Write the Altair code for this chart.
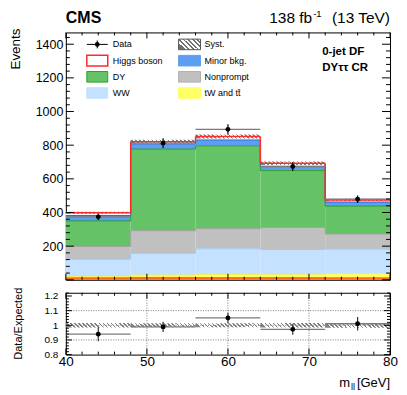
import altair as alt
import pandas as pd

FONT = "Liberation Sans"

# ---------------- data ----------------
bin_lo = [40, 48, 56, 64, 72]
bin_hi = [48, 56, 64, 72, 80]
bin_mid = [44, 52, 60, 68, 76]

other_bkg = [12, 14, 13, 13, 12]        # thin orange band at the bottom
top_bkg = [8, 14, 19, 17, 24]           # tW and tt
ww_bkg = [102, 129, 152, 150, 146]
nonprompt_bkg = [76, 135, 120, 131, 90]
dy_bkg = [152, 485, 492, 338, 166]
minor_bkg = [32, 29, 35, 26, 24]
higgs_sig = [16, 15, 20, 17, 12]

data_obs = [374, 812, 894, 673, 479]
data_err = [19, 29, 30, 26, 22]
syst_rel = [0.015, 0.014, 0.014, 0.015, 0.016]

main_y_labels = [200, 400, 600, 800, 1000, 1200, 1400]
ratio_y_labels = [0.8, 0.9, 1.0, 1.1, 1.2]
x_labels = [40, 50, 60, 70, 80]

# ---------------- layout ----------------
W, H_MAIN, H_RATIO = 325, 248, 62
Y_MAX = 1470
R_MIN, R_MAX = 0.8, 1.222

comps = [
    ("other", other_bkg, "#ff6a1a", "#ff6a1a", 1.0),
    ("tt", top_bkg, "#ffff66", "#f2f250", 1.0),
    ("WW", ww_bkg, "#c4e1ff", "#9fcdf7", 1.0),
    ("Nonprompt", nonprompt_bkg, "#c0c0c0", "#a3a3a3", 1.0),
    ("DY", dy_bkg, "#66c266", "#2e9e2e", 1.0),
    ("Minor", minor_bkg, "#5c9ff2", "#2f6ad8", 1.0),
    ("Higgs", higgs_sig, "#ffffff", "#ff2a2a", 1.5),
]

rows, steps = [], []
base = [0] * 5
for name, vals, fill, line, sw in comps:
    tops = [base[i] + vals[i] for i in range(5)]
    for i in range(5):
        rows.append(dict(name=name, x=bin_lo[i], x2=bin_hi[i], y=base[i], y2=tops[i],
                         fill=fill, line=line, sw=sw))
    for i in range(4):
        steps.append(dict(name=name, x=bin_hi[i], y=tops[i], y2=tops[i + 1], line=line, sw=sw))
    base = tops
total = base

stack_df = pd.DataFrame(rows)
step_df = pd.DataFrame(steps)
syst_df = pd.DataFrame({
    "x": bin_lo, "x2": bin_hi,
    "lo": [t * (1 - s) for t, s in zip(total, syst_rel)],
    "hi": [t * (1 + s) for t, s in zip(total, syst_rel)],
})
data_df = pd.DataFrame({
    "mid": bin_mid, "lo": bin_lo, "hi": bin_hi, "val": data_obs,
    "elo": [d - e for d, e in zip(data_obs, data_err)],
    "ehi": [d + e for d, e in zip(data_obs, data_err)],
})
ratio_df = pd.DataFrame({
    "mid": bin_mid, "lo": bin_lo, "hi": bin_hi,
    "r": [d / t for d, t in zip(data_obs, total)],
    "rlo": [(d - e) / t for d, e, t in zip(data_obs, data_err, total)],
    "rhi": [(d + e) / t for d, e, t in zip(data_obs, data_err, total)],
})
rsyst_df = pd.DataFrame({
    "x": bin_lo, "x2": bin_hi,
    "lo": [1 - s for s in syst_rel], "hi": [1 + s for s in syst_rel],
})

one = pd.DataFrame({"k": [0]})


def hatch(r, n, color="#808080", frac=0.4):
    stops = []
    p = 1.0 / n
    for k in range(n):
        o = k * p
        a = round(o, 5)
        b = round(o + frac * p, 5)
        c = round(min(1.0, o + p), 5)
        stops += [
            {"offset": a, "color": color},
            {"offset": b, "color": color},
            {"offset": b, "color": "rgba(255,255,255,0)"},
            {"offset": c, "color": "rgba(255,255,255,0)"},
        ]
    return {"gradient": "linear", "stops": stops, "x1": 0, "y1": r, "x2": 1, "y2": 0}


# ---------------- scales / axes ----------------
xs = alt.Scale(domain=[40, 80], nice=False, zero=False)
ys_main = alt.Scale(domain=[0, Y_MAX], nice=False, zero=False)
ys_ratio = alt.Scale(domain=[R_MIN, R_MAX], nice=False, zero=False)

main_y_axis = alt.Axis(values=main_y_labels, format="d", labelFont=FONT, labelFontSize=12.5,
                       labelColor="black", labelPadding=3, ticks=False, domain=False, grid=False)
ratio_y_axis = alt.Axis(values=ratio_y_labels, format=".1~f", labelFont=FONT, labelFontSize=10,
                        labelColor="black", labelPadding=8, ticks=False, domain=False, grid=False)
ratio_x_axis = alt.Axis(values=x_labels, format="d", labelFont=FONT, labelFontSize=13.5,
                        labelColor="black", labelPadding=0, ticks=False, domain=False, grid=False,
                        labelFlush=False)


def XM(f):
    return alt.X(f, type="quantitative", scale=xs, axis=None)


def YM(f):
    return alt.Y(f, type="quantitative", scale=ys_main, axis=main_y_axis, title=None)


def XR(f):
    return alt.X(f, type="quantitative", scale=xs, axis=ratio_x_axis, title=None)


def YR(f):
    return alt.Y(f, type="quantitative", scale=ys_ratio, axis=ratio_y_axis, title=None)


def label(s, x, y, size, weight="normal", align="left", baseline="middle", angle=0):
    return alt.Chart(one).mark_text(text=s, font=FONT, fontSize=size, fontWeight=weight,
                                    align=align, baseline=baseline, angle=angle,
                                    color="black").encode(x=alt.value(x), y=alt.value(y))


def box(x0, x1, yc, fill, stroke, sw=1.0):
    return alt.Chart(one).mark_rect(fill=fill, stroke=stroke, strokeWidth=sw).encode(
        x=alt.value(x0), x2=alt.value(x1), y=alt.value(yc - 5.3), y2=alt.value(yc + 5.3))


def y_ticks(values, L, yfn):
    df = pd.DataFrame({"v": values})
    left = alt.Chart(df).mark_rule(color="black", strokeWidth=1).encode(
        y=yfn("v"), x=alt.value(0), x2=alt.value(L))
    right = alt.Chart(df).mark_rule(color="black", strokeWidth=1).encode(
        y=yfn("v"), x=alt.value(W - L), x2=alt.value(W))
    return [left, right]


def x_ticks(values, L, H, xfn):
    df = pd.DataFrame({"v": values})
    bottom = alt.Chart(df).mark_rule(color="black", strokeWidth=1).encode(
        x=xfn("v"), y=alt.value(H - L), y2=alt.value(H))
    top = alt.Chart(df).mark_rule(color="black", strokeWidth=1).encode(
        x=xfn("v"), y=alt.value(0), y2=alt.value(L))
    return [bottom, top]


x_major = [40, 50, 60, 70, 80]
x_minor = [v for v in range(40, 81, 2) if v % 10 != 0]
my_major = list(range(0, Y_MAX, 200))
my_minor = [v for v in range(0, Y_MAX, 40) if v % 200 != 0]
ry_major = [0.8, 0.9, 1.0, 1.1, 1.2]
ry_minor = [round(0.8 + 0.02 * k, 2) for k in range(22) if k % 5 != 0]

# ---------------- main panel ----------------
fills = alt.Chart(stack_df).mark_rect().encode(
    x=XM("x"), x2="x2", y=YM("y"), y2="y2", fill=alt.Fill("fill:N", scale=None))
syst_main = alt.Chart(syst_df).mark_rect(fill=hatch(0.06, 16)).encode(
    x=XM("x"), x2="x2", y=YM("lo"), y2="hi")
tops = alt.Chart(stack_df).mark_rule().encode(
    x=XM("x"), x2="x2", y=YM("y2"), color=alt.Color("line:N", scale=None),
    strokeWidth=alt.StrokeWidth("sw:Q", scale=None))
sides = alt.Chart(step_df).mark_rule().encode(
    x=XM("x"), y=YM("y"), y2="y2", color=alt.Color("line:N", scale=None),
    strokeWidth=alt.StrokeWidth("sw:Q", scale=None))
d_h = alt.Chart(data_df).mark_rule(color="#7a7a7a", strokeWidth=1.3).encode(
    x=XM("lo"), x2="hi", y=YM("val"))
d_v = alt.Chart(data_df).mark_rule(color="black", strokeWidth=1.2).encode(
    x=XM("mid"), y=YM("elo"), y2="ehi")
d_p = alt.Chart(data_df).mark_circle(color="black", size=24, opacity=1).encode(
    x=XM("mid"), y=YM("val"))

main_layers = [fills, syst_main, tops, sides, d_h, d_v, d_p]
main_layers += y_ticks(my_major, 8, YM) + y_ticks(my_minor, 4, YM)
main_layers += x_ticks(x_major, 6, H_MAIN, XM) + x_ticks(x_minor, 3, H_MAIN, XM)

# legend
c1a, c1b, c1t = 21, 42, 47
c2a, c2b, c2t = 113, 135, 139
r1, r2, r3, r4 = 12, 28.3, 44.5, 60.7
LF = 9
main_layers += [
    alt.Chart(one).mark_rule(color="black", strokeWidth=1).encode(
        x=alt.value(c1a), x2=alt.value(c1b), y=alt.value(r1)),
    alt.Chart(one).mark_rule(color="black", strokeWidth=1).encode(
        x=alt.value((c1a + c1b) / 2), y=alt.value(r1 - 4), y2=alt.value(r1 + 4)),
    alt.Chart(one).mark_circle(color="black", size=22, opacity=1).encode(
        x=alt.value((c1a + c1b) / 2), y=alt.value(r1)),
    box(c1a, c1b, r2, "#ffffff", "#ff2a2a", 1.5),
    box(c1a, c1b, r3, "#66c266", "#2e9e2e"),
    box(c1a, c1b, r4, "#c4e1ff", "#c4e1ff"),
    box(c2a, c2b, r1, hatch(0.5, 6, "#707070"), "#555555"),
    box(c2a, c2b, r2, "#5c9ff2", "#5c9ff2"),
    box(c2a, c2b, r3, "#c0c0c0", "#b0b0b0"),
    box(c2a, c2b, r4, "#ffff66", "#ffff66"),
    label("Data", c1t, r1, LF),
    label("Higgs boson", c1t, r2, LF),
    label("DY", c1t, r3, LF),
    label("WW", c1t, r4, LF),
    label("Syst.", c2t, r1, LF),
    label("Minor bkg.", c2t, r2, LF),
    label("Nonprompt", c2t, r3, LF),
    label("tW and tt\u0304", c2t, r4, LF),
    label("0-jet DF", 257, 19.5, 11.5, weight="bold"),
    label("DY\u03c4\u03c4 CR", 257, 35.5, 11.5, weight="bold"),
    # header
    label("CMS", 0, -9, 16, weight="bold", baseline="alphabetic"),
    label("138 fb", 247, -9, 15.5, align="right", baseline="alphabetic"),
    label("-1", 248, -15, 9.5, baseline="alphabetic"),
    label("(13 TeV)", 325, -9, 15.5, align="right", baseline="alphabetic"),
    label("Events", -50, -4, 13.5, align="right", angle=270),
    alt.Chart(one).mark_rule(color="white").encode(
        x=alt.value(-57), y=alt.value(100), y2=alt.value(101)),
]

main = alt.layer(*main_layers).properties(width=W, height=H_MAIN)

# ---------------- ratio panel ----------------
grid_y = alt.Chart(pd.DataFrame({"v": [0.9, 1.0, 1.1]})).mark_rule(
    color="#555555", strokeWidth=0.8, strokeDash=[1, 1.5]).encode(
    y=YR("v"), x=alt.value(0), x2=alt.value(W))
grid_x = alt.Chart(pd.DataFrame({"v": [50, 60, 70]})).mark_rule(
    color="#555555", strokeWidth=0.8, strokeDash=[1, 1.5]).encode(
    x=XR("v"), y=alt.value(0), y2=alt.value(H_RATIO))
syst_ratio = alt.Chart(rsyst_df).mark_rect(fill=hatch(0.068, 16)).encode(
    x=XR("x"), x2="x2", y=YR("lo"), y2="hi")
r_h = alt.Chart(ratio_df).mark_rule(color="#7a7a7a", strokeWidth=1.3).encode(
    x=XR("lo"), x2="hi", y=YR("r"))
r_v = alt.Chart(ratio_df).mark_rule(color="#333333", strokeWidth=1.2).encode(
    x=XR("mid"), y=YR("rlo"), y2="rhi")
r_p = alt.Chart(ratio_df).mark_circle(color="black", size=24, opacity=1).encode(
    x=XR("mid"), y=YR("r"))

ratio_layers = [grid_y, grid_x, syst_ratio, r_h, r_v, r_p]
ratio_layers += y_ticks(ry_major, 6, YR) + y_ticks(ry_minor, 3, YR)
ratio_layers += x_ticks(x_major, 6, H_RATIO, XR) + x_ticks(x_minor, 3, H_RATIO, XR)
ratio_layers += [
    label("Data/Expected", -46.5, H_RATIO / 2, 11, align="center", angle=270),
    label("m", 285, 94, 13, align="right", baseline="alphabetic"),
    label("ll", 286, 97, 9, baseline="alphabetic"),
    label("[GeV]", 325, 94, 13, align="right", baseline="alphabetic"),
    alt.Chart(one).mark_rule(color="white").encode(
        x=alt.value(-57), y=alt.value(30), y2=alt.value(31)),
]

ratio = alt.layer(*ratio_layers).properties(width=W, height=H_RATIO)

chart = alt.vconcat(main, ratio, spacing=6).properties(
    padding={"left": 0, "top": 0, "right": 0, "bottom": 0}
).configure_view(stroke="black", strokeWidth=1)

chart.save("out.html", embed_options={"renderer": "svg", "actions": False})
